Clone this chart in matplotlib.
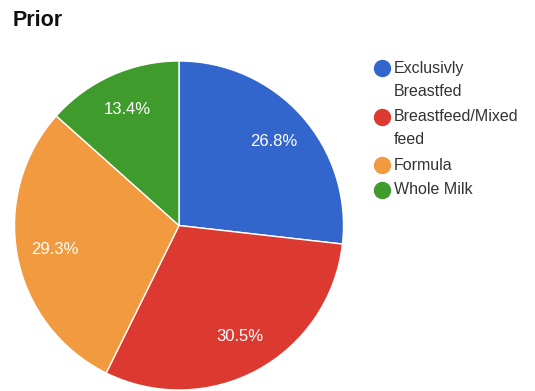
import matplotlib
matplotlib.use("Agg")
import matplotlib.pyplot as plt
from matplotlib.lines import Line2D

labels = ["Exclusivly\nBreastfed", "Breastfeed/Mixed\nfeed", "Formula", "Whole Milk"]
shares = [26.8, 30.5, 29.3, 13.4]
colors = ["#3366cc", "#dc3a30", "#f29a3f", "#3f9b2b"]

plt.rcParams['font.family'] = ['Liberation Sans', 'DejaVu Sans']

W, H = 535, 391
fig = plt.figure(figsize=(W / 100, H / 100), dpi=100)

# pie: centre (179, 225.5) px, radius 164.5 px
cx, cy, r = 179, 225.5, 164.5
ax = fig.add_axes([(cx - r) / W, (H - cy - r) / H, 2 * r / W, 2 * r / H])
wedges, texts, autotexts = ax.pie(
    shares, colors=colors, startangle=90, counterclock=False,
    autopct='%.1f%%', pctdistance=0.77,
    wedgeprops=dict(edgecolor='white', linewidth=1),
    textprops=dict(color='white', fontsize=12))
ax.set_xlim(-1, 1)
ax.set_ylim(-1, 1)
ax.set_aspect('equal')

fig.text(13 / W, 1 - 21 / H, "Prior", fontsize=15.5, fontweight='bold',
         va='center', ha='left', color='#111111')

# legend drawn by hand so the dot sits on the first line of a wrapped label
y = 68
for lab, col in zip(labels, colors):
    fig.add_artist(Line2D([382 / W], [1 - y / H], marker='o', markersize=11.5,
                          color=col, linestyle='none', transform=fig.transFigure))
    fig.text(394 / W, 1 - (y - 7.5) / H, lab, fontsize=11.5, color='#333333',
             va='top', ha='left', linespacing=1.68)
    y += (lab.count('\n') + 1) * 23.5 + 1.5

fig.savefig("out.png", dpi=100)
